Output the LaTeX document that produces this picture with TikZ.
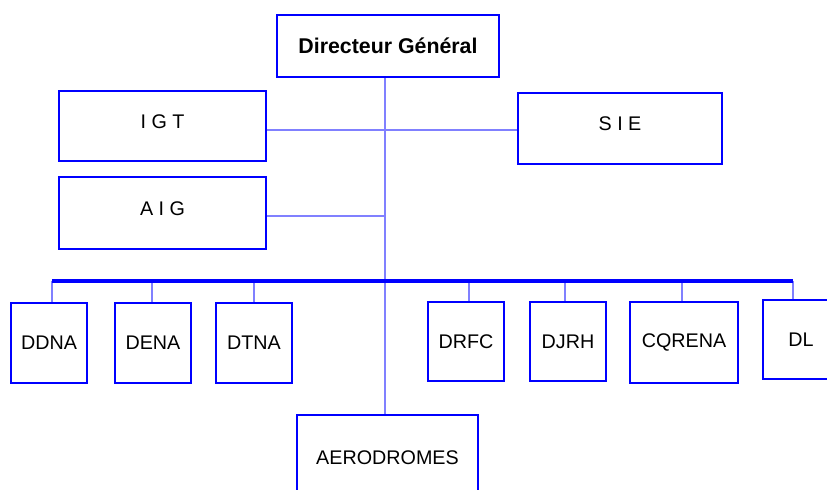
\documentclass[tikz,border=0pt]{standalone}
\usepackage{fontspec}
\setmainfont{Liberation Sans}
\usetikzlibrary{calc}
\definecolor{boxblue}{RGB}{0,0,255}
\definecolor{linkblue}{RGB}{128,128,255}

\begin{document}
\begin{tikzpicture}[x=0.75pt, y=-0.75pt,
    unit/.style={draw=boxblue, line width=1.2pt, fill=white, inner sep=0pt,
        minimum width=57pt, minimum height=60pt, font=\fontsize{14.8}{17}\selectfont},
    high/.style={text depth=7pt},
    link/.style={draw=linkblue, line width=2.2pt},
    bus/.style={draw=boxblue, line width=2.3pt}]
    \useasboundingbox (0, 0) rectangle (827, 489);
    \clip (0, 0) rectangle (827, 489);

    \node (DG) at (388, 46) [unit, minimum width=166.5pt, minimum height=46.5pt,
        font=\fontsize{16}{19}\selectfont\bfseries] {Directeur Général};
    \node (IGT) at (162.5, 126) [unit, high, minimum width=155.25pt, minimum height=52.5pt] {I G T};
    \node (AIG) at (162.5, 213) [unit, high, minimum width=155.25pt, minimum height=54pt] {A I G};
    \node (SIE) at (620, 128.5) [unit, high, minimum width=153pt, minimum height=53.25pt] {S I E};

    \node (DDNA) at (49, 343) [unit] {DDNA};
    \node (DENA) at (153, 343) [unit] {DENA};
    \node (DTNA) at (254, 343) [unit] {DTNA};
    \node (DRFC) at (466, 341.5) [unit, minimum height=59.25pt] {DRFC};
    \node (DJRH) at (568, 341.5) [unit, minimum height=59.25pt] {DJRH};
    \node (CQRENA) at (684, 342.5) [unit, minimum width=81pt, minimum height=60.75pt] {CQRENA};
    \node (DL) at (801, 339.5) [unit, minimum height=59.25pt] {DL};
    \node (AERO) at (387.5, 458) [unit, minimum width=135.75pt, minimum height=64.5pt] {AERODROMES};

    \coordinate (top) at ($(DG.south) + (-3, 0)$);
    \coordinate (j1) at (385, 130);
    \coordinate (j2) at (385, 216);
    \coordinate (busL) at (52, 281);
    \coordinate (busR) at (793, 281);

    \draw [link] (top) -- (top |- AERO.north);
    \draw [link] (IGT.east |- j1) -- (SIE.west |- j1);
    \draw [link] (AIG.east |- j2) -- (j2);

    \foreach \n/\d in {DDNA/3, DENA/-1, DTNA/0, DRFC/3, DJRH/-3, CQRENA/-2, DL/-8} {
        \path ($(\n.north) + (\d, 0)$) coordinate (t\n);
        \draw [link] (t\n) -- (t\n |- busL);
    }
    \draw [bus] (busL) -- (busR);
\end{tikzpicture}
\end{document}
